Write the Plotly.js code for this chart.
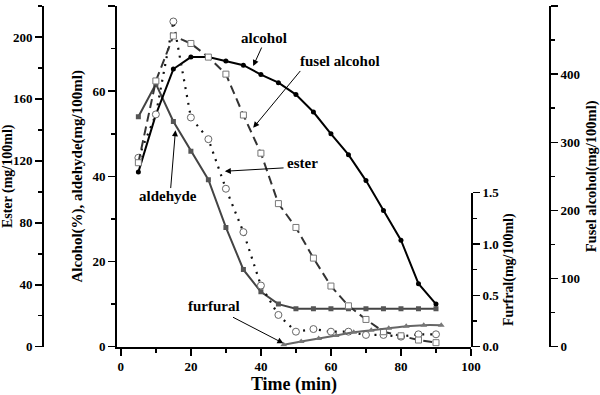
<!DOCTYPE html>
<html>
<head>
<meta charset="utf-8">
<script src="https://cdn.plot.ly/plotly-3.0.1.min.js"></script>
<style>html,body{margin:0;padding:0;background:#fff;}#chart{width:600px;height:395px;}</style>
</head>
<body>
<div id="chart"></div>
<script>
// ---- data ----
var time = [5,10,15,20,25,30,35,40,45,50,55,60,65,70,75,80,85,90];
var alcohol = [41.0,54.5,65.2,68.0,68.0,67.1,66.1,63.9,62.0,59.2,55.1,50.0,45.1,39.0,32.0,25.0,14.8,10.0];
var aldehyde = [54.0,61.7,52.9,45.9,39.2,28.0,18.1,12.9,10.0,8.9,8.9,8.9,8.9,8.9,8.9,8.9,8.9,8.9];
var ester = [122,150,210,148,134,102,74,39.5,20.5,9.7,11.4,9.7,9.7,7.6,7.6,6.5,8.0,8.0];
var fusel = [270,390,456,445,425,400,340,284,210,175,130,89,60,40,22,16,9.8,5.9];
var furfuralTime = [46.5,51.5,56.5,61.5,66.5,71.5,76.5,81.5,86.5,91.5];
var furfural = [0.02,0.05,0.08,0.11,0.14,0.16,0.18,0.20,0.21,0.21];

var seriesLabels = ['alcohol','fusel alcohol','ester','aldehyde','furfural'];
var xTitle = 'Time (min)';
var yTitles = ['Alcohol(%), aldehyde(mg/100ml)','Ester (mg/100ml)','Fusel alcohol(mg/100ml)','Furfral(mg/100ml)'];

var FONT = 'Liberation Serif, Times New Roman, serif';
function tf(sz){ return {family: FONT, size: sz, color: '#000', weight: 'bold'}; }

var traces = [
  {x: furfuralTime, y: furfural, xaxis:'x2', yaxis:'y4', mode:'lines+markers', name:'furfural',
   line:{color:'#666', width:2, shape:'spline', smoothing:0.6},
   marker:{symbol:'triangle-up', size:6, color:'#777'}},
  {x: time, y: aldehyde, xaxis:'x', yaxis:'y', mode:'lines+markers', name:'aldehyde',
   line:{color:'#444', width:2},
   marker:{symbol:'square', size:5, color:'#555'}},
  {x: time, y: alcohol, xaxis:'x', yaxis:'y', mode:'lines+markers', name:'alcohol',
   line:{color:'#000', width:2},
   marker:{symbol:'circle', size:5, color:'#000'}},
  {x: time, y: fusel, xaxis:'x', yaxis:'y3', mode:'lines+markers', name:'fusel alcohol',
   line:{color:'#333', width:2, dash:'9px,5px'},
   marker:{symbol:'square', size:6, color:'#fff', line:{width:1, color:'#777'}}},
  {x: time, y: ester, xaxis:'x', yaxis:'y2', mode:'lines+markers', name:'ester',
   line:{color:'#111', width:2.2, dash:'2px,6px'},
   marker:{symbol:'circle', size:7, color:'#fff', line:{width:1, color:'#666'}}}
];

var yDom = [48.3/395, 389/395];
var axCommon = {showgrid:false, zeroline:false, showline:true, linecolor:'#000', linewidth:2,
  ticks:'outside', ticklen:7, tickwidth:1.5, tickcolor:'#000', tickfont: tf(13), automargin:false};
function ax(o){ var r = {}; for (var k in axCommon) r[k]=axCommon[k]; for (var k2 in o) r[k2]=o[k2]; return r; }
var minorStyle = {ticklen:4, ticks:'outside', tickcolor:'#000', tickwidth:1.5};
function mn(d){ var r = {dtick:d}; for (var k in minorStyle) r[k]=minorStyle[k]; return r; }

var layout = {
  width: 600, height: 395,
  margin: {l:0, r:0, t:0, b:0},
  paper_bgcolor:'#fff', plot_bgcolor:'rgba(0,0,0,0)',
  showlegend: false,
  font: {family: FONT, color:'#000', weight:'bold'},
  xaxis: ax({domain:[117/600, 471/600], range:[-1.1,100], dtick:20, tick0:0, minor:mn(10),
    anchor:'y', title:{text:xTitle, font:tf(18), standoff:10}}),
  xaxis2: {overlaying:'x', range:[-1.1,100], visible:false, anchor:'y4', domain:[117/600,471/600]},
  yaxis: ax({domain:yDom, range:[0,80], dtick:20, anchor:'x', minor:mn(10),
    title:{text:yTitles[0], font:tf(15), standoff:6}}),
  yaxis2: ax({overlaying:'y', anchor:'free', position:43/600, side:'left', range:[0,220], dtick:40, tick0:0, minor:mn(20),
    title:{text:yTitles[1], font:tf(14), standoff:2}}),
  yaxis3: ax({overlaying:'y', anchor:'free', position:550/600, side:'right', range:[0,500], dtick:100, minor:mn(50),
    title:{text:yTitles[2], font:tf(14.5), standoff:7}}),
  yaxis4: ax({anchor:'free', position:472/600, side:'right', domain:[48.3/395, 202.3/395], range:[0,1.5], dtick:0.5,
    tickformat:'.1f', minor:mn(0.25),
    title:{text:yTitles[3], font:tf(14), standoff:4}}),
  annotations: [
    {xref:'x', yref:'y', x:40.9, y:72.4, text:seriesLabels[0], showarrow:false, font:tf(15)},
    {xref:'x', yref:'y', x:62.6, y:67.2, text:seriesLabels[1], showarrow:false, font:tf(15)},
    {xref:'x', yref:'y', x:52.0, y:43.2, text:seriesLabels[2], showarrow:false, font:tf(15)},
    {xref:'x', yref:'y', x:13.6, y:35.5, text:seriesLabels[3], showarrow:false, font:tf(15)},
    {xref:'x', yref:'y', x:26.6, y:9.5, text:seriesLabels[4], showarrow:false, font:tf(15)},
    {xref:'x', yref:'y', axref:'x', ayref:'y', x:37.8, y:65.9, ax:40.4, ay:70.6, text:'', showarrow:true, arrowhead:2, arrowsize:1.2, arrowwidth:1, arrowcolor:'#000'},
    {xref:'x', yref:'y', axref:'x', ayref:'y', x:37.8, y:51.4, ax:51.6, ay:65.1, text:'', showarrow:true, arrowhead:2, arrowsize:1.2, arrowwidth:1, arrowcolor:'#000'},
    {xref:'x', yref:'y', axref:'x', ayref:'y', x:29.7, y:41.2, ax:46.9, ay:42.0, text:'', showarrow:true, arrowhead:2, arrowsize:1.2, arrowwidth:1, arrowcolor:'#000'},
    {xref:'x', yref:'y', axref:'x', ayref:'y', x:15.6, y:50.8, ax:14.2, ay:36.9, text:'', showarrow:true, arrowhead:2, arrowsize:1.2, arrowwidth:1, arrowcolor:'#000'},
    {xref:'x', yref:'y', axref:'x', ayref:'y', x:46.4, y:0.8, ax:31.6, ay:7.1, text:'', showarrow:true, arrowhead:2, arrowsize:1.2, arrowwidth:1, arrowcolor:'#000'}
  ]
};

Plotly.newPlot('chart', traces, layout, {displayModeBar:false, staticPlot:true});
</script>
</body>
</html>
